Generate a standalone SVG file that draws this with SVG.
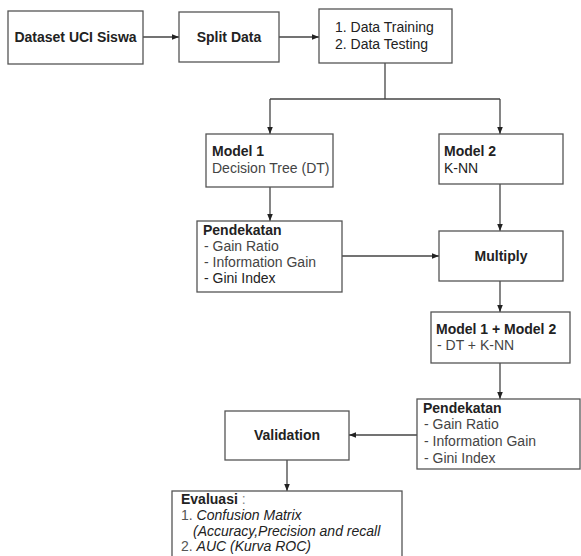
<svg xmlns="http://www.w3.org/2000/svg" width="581" height="556" viewBox="0 0 581 556">
<style>
.box{fill:#fff;stroke:#555;stroke-width:1.3}
.t{font-family:"Liberation Sans",Arial,sans-serif;font-size:14px;fill:#222}
.b{font-weight:bold}
.g{fill:#444}
.c{text-anchor:middle}
.i{font-style:italic}
.ln{fill:none;stroke:#444;stroke-width:1.3}
</style>
<defs>
<marker id="ah" viewBox="0 0 10 10" refX="10" refY="5" markerWidth="7" markerHeight="7" markerUnits="userSpaceOnUse" orient="auto">
<path d="M0,1 L10,5 L0,9 Z" fill="#222"/>
</marker>
</defs>
<rect width="581" height="556" fill="#fff"/>
<g id="connectors">
<line class="ln" x1="143" y1="37" x2="179" y2="37" marker-end="url(#ah)"/>
<line class="ln" x1="279" y1="37" x2="319" y2="37" marker-end="url(#ah)"/>
<polyline class="ln" points="385,63 385,99"/>
<polyline class="ln" points="270,99 500,99"/>
<line class="ln" x1="270" y1="99" x2="270" y2="134" marker-end="url(#ah)"/>
<line class="ln" x1="500" y1="99" x2="500" y2="134" marker-end="url(#ah)"/>
<line class="ln" x1="270" y1="187" x2="270" y2="221" marker-end="url(#ah)"/>
<line class="ln" x1="500" y1="184" x2="500" y2="231" marker-end="url(#ah)"/>
<line class="ln" x1="342" y1="256" x2="439" y2="256" marker-end="url(#ah)"/>
<line class="ln" x1="500" y1="281" x2="500" y2="312" marker-end="url(#ah)"/>
<line class="ln" x1="500" y1="363" x2="500" y2="399" marker-end="url(#ah)"/>
<line class="ln" x1="417" y1="435" x2="349" y2="435" marker-end="url(#ah)"/>
<line class="ln" x1="287" y1="460" x2="287" y2="491" marker-end="url(#ah)"/>
</g>
<g id="dataset">
<rect class="box" x="8" y="11" width="135" height="53"/>
<text class="t b c" x="75.5" y="42">Dataset UCI Siswa</text>
</g>
<g id="split">
<rect class="box" x="179" y="12" width="100" height="50"/>
<text class="t b c" x="229" y="42">Split Data</text>
</g>
<g id="data">
<rect class="box" x="319" y="9" width="133" height="54"/>
<text class="t" x="335" y="32">1. Data Training</text>
<text class="t" x="335" y="49">2. Data Testing</text>
</g>
<g id="model1">
<rect class="box" x="206" y="134" width="127" height="53"/>
<text class="t b" x="212" y="156">Model 1</text>
<text class="t g" x="212" y="173">Decision Tree (DT)</text>
</g>
<g id="model2">
<rect class="box" x="439" y="134" width="124" height="50"/>
<text class="t b" x="444" y="156">Model 2</text>
<text class="t" x="444" y="173">K-NN</text>
</g>
<g id="pendekatan1">
<rect class="box" x="197" y="221" width="145" height="71"/>
<text class="t b" x="203" y="235">Pendekatan</text>
<text class="t g" x="204" y="251"> - Gain Ratio</text>
<text class="t g" x="204" y="267"> - Information Gain</text>
<text class="t" x="204" y="283"> - Gini Index</text>
</g>
<g id="multiply">
<rect class="box" x="439" y="231" width="124" height="50"/>
<text class="t b c" x="501" y="261">Multiply</text>
</g>
<g id="model12">
<rect class="box" x="431" y="312" width="139" height="51"/>
<text class="t b" x="436" y="334">Model 1 + Model 2</text>
<text class="t g" x="437" y="350"> - DT + K-NN</text>
</g>
<g id="pendekatan2">
<rect class="box" x="417" y="399" width="163" height="70"/>
<text class="t b" x="423" y="413">Pendekatan</text>
<text class="t g" x="424" y="429"> - Gain Ratio</text>
<text class="t g" x="424" y="446"> - Information Gain</text>
<text class="t g" x="424" y="463"> - Gini Index</text>
</g>
<g id="validation">
<rect class="box" x="225" y="411" width="124" height="49"/>
<text class="t b c" x="287" y="440">Validation</text>
</g>
<g id="evaluasi">
<rect class="box" x="172" y="491" width="230" height="70"/>
<text class="t" x="181" y="504"><tspan class="b">Evaluasi</tspan><tspan fill="#888"> :</tspan></text>
<text class="t" x="181" y="520"><tspan fill="#555">1. </tspan><tspan class="i">Confusion Matrix</tspan></text>
<text class="t i" x="193" y="536">(Accuracy,Precision and recall</text>
<text class="t i" x="181" y="551"><tspan font-style="normal" fill="#555">2. </tspan>AUC (Kurva ROC)</text>
</g>
</svg>
